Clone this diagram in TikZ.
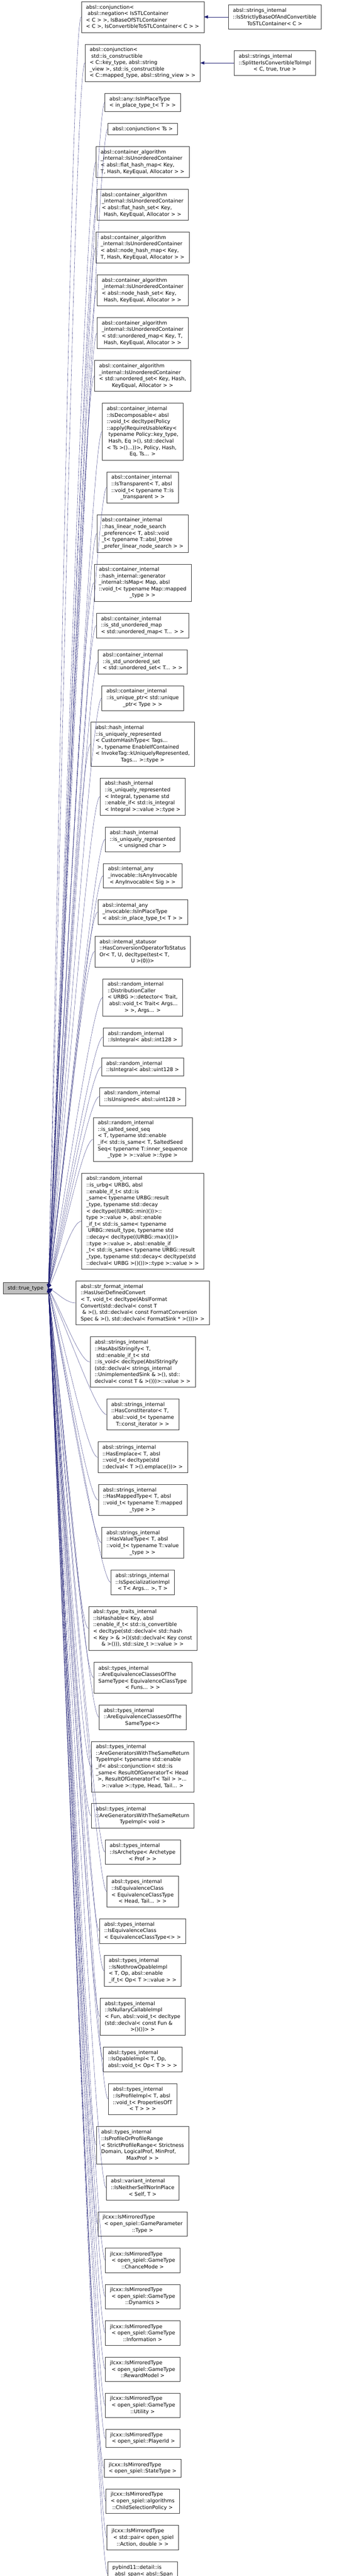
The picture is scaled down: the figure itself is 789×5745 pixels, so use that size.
\documentclass[tikz,border=0pt]{standalone}
\usepackage{fontspec}
\setmainfont{DejaVu Sans}
\usetikzlibrary{positioning,arrows.meta,calc}
\definecolor{edgeblue}{HTML}{191970}
\definecolor{boxline}{HTML}{333333}
\definecolor{rootfill}{HTML}{BFBFBF}
\newcommand{\doxfont}{\fontsize{11.4}{14.5}\selectfont}

\begin{document}
\begin{tikzpicture}[x=1pt, y=1pt, node distance=26pt,
  every node/.style={rectangle, draw=boxline, fill=white, font=\doxfont, align=left, inner xsep=10.5pt, inner ysep=2pt},
  nrows/.style={minimum height=14.5pt*#1+11pt},
  inh/.style={draw=edgeblue, {Triangle[length=9pt,width=7pt]}-},
  fan/.style={to path={.. controls ($(\tikztostart)!0.35!(\tikztotarget)$) and ($(\tikztotarget)+(-22,0)$) .. (\tikztotarget)}}]

\useasboundingbox (0,0) rectangle (789,-5745);

\node[nrows=4, anchor=north] (n1) at (318,-3) {absl::conjunction<\\\ absl::negation< IsSTLContainer\\< C > >, IsBaseOfSTLContainer\\\hfil< C >, IsConvertibleToSTLContainer< C > >};
\node[nrows=3, right=54pt of n1] (r1) {absl::strings\_internal\\::IsStrictlyBaseOfAndConvertible\\\hfil ToSTLContainer< C >};
\node[nrows=5, below=of n1] (n2) {absl::conjunction<\\\ std::is\_constructible\\< C::key\_type, absl::string\\\_view >, std::is\_constructible\\\hfil< C::mapped\_type, absl::string\_view > >};
\node[nrows=3, right=75pt of n2] (r2) {absl::strings\_internal\\::SplitterIsConvertibleToImpl\\\hfil< C, true, true >};
\node[nrows=2, below=of n2] (n3) {absl::any::IsInPlaceType\\\hfil< in\_place\_type\_t< T > >};
\node[nrows=1, below=of n3] (n4) {absl::conjunction< Ts >};
\node[nrows=4, below=of n4] (n5) {absl::container\_algorithm\\\_internal::IsUnorderedContainer\\< absl::flat\_hash\_map< Key,\\\hfil T, Hash, KeyEqual, Allocator > >};
\node[nrows=4, below=of n5] (n6) {absl::container\_algorithm\\\_internal::IsUnorderedContainer\\< absl::flat\_hash\_set< Key,\\\hfil Hash, KeyEqual, Allocator > >};
\node[nrows=4, below=of n6] (n7) {absl::container\_algorithm\\\_internal::IsUnorderedContainer\\< absl::node\_hash\_map< Key,\\\hfil T, Hash, KeyEqual, Allocator > >};
\node[nrows=4, below=of n7] (n8) {absl::container\_algorithm\\\_internal::IsUnorderedContainer\\< absl::node\_hash\_set< Key,\\\hfil Hash, KeyEqual, Allocator > >};
\node[nrows=4, below=of n8] (n9) {absl::container\_algorithm\\\_internal::IsUnorderedContainer\\< std::unordered\_map< Key, T,\\\hfil Hash, KeyEqual, Allocator > >};
\node[nrows=4, below=of n9] (n10) {absl::container\_algorithm\\\_internal::IsUnorderedContainer\\< std::unordered\_set< Key, Hash,\\\hfil KeyEqual, Allocator > >};
\node[nrows=8, below=of n10] (n11) {absl::container\_internal\\::IsDecomposable< absl\\::void\_t< decltype(Policy\\::apply(RequireUsableKey<\\\ typename Policy::key\_type,\\\ Hash, Eq >(), std::declval\\< Ts >()...))>, Policy, Hash,\\\hfil Eq, Ts... >};
\node[nrows=4, below=of n11] (n12) {absl::container\_internal\\::IsTransparent< T, absl\\::void\_t< typename T::is\\\hfil\_transparent > >};
\node[nrows=5, below=of n12] (n13) {absl::container\_internal\\::has\_linear\_node\_search\\\_preference< T, absl::void\\\_t< typename T::absl\_btree\\\hfil\_prefer\_linear\_node\_search > >};
\node[nrows=5, below=of n13] (n14) {absl::container\_internal\\::hash\_internal::generator\\\_internal::IsMap< Map, absl\\::void\_t< typename Map::mapped\\\hfil\_type > >};
\node[nrows=3, below=of n14] (n15) {absl::container\_internal\\::is\_std\_unordered\_map\\\hfil< std::unordered\_map< T... > >};
\node[nrows=3, below=of n15] (n16) {absl::container\_internal\\::is\_std\_unordered\_set\\\hfil< std::unordered\_set< T... > >};
\node[nrows=3, below=of n16] (n17) {absl::container\_internal\\::is\_unique\_ptr< std::unique\\\hfil\_ptr< Type > >};
\node[nrows=6, below=of n17] (n18) {absl::hash\_internal\\::is\_uniquely\_represented\\< CustomHashType< Tags...\\\ >, typename EnableIfContained\\< InvokeTag::kUniquelyRepresented,\\\hfil Tags... >::type >};
\node[nrows=5, below=of n18] (n19) {absl::hash\_internal\\::is\_uniquely\_represented\\< Integral, typename std\\::enable\_if< std::is\_integral\\\hfil< Integral >::value >::type >};
\node[nrows=3, below=of n19] (n20) {absl::hash\_internal\\::is\_uniquely\_represented\\\hfil< unsigned char >};
\node[nrows=3, below=of n20] (n21) {absl::internal\_any\\\_invocable::IsAnyInvocable\\\hfil< AnyInvocable< Sig > >};
\node[nrows=3, below=of n21] (n22) {absl::internal\_any\\\_invocable::IsInPlaceType\\\hfil< absl::in\_place\_type\_t< T > >};
\node[nrows=4, below=of n22] (n23) {absl::internal\_statusor\\::HasConversionOperatorToStatus\\Or< T, U, decltype(test< T,\\\hfil U >(0))>};
\node[nrows=5, below=of n23] (n24) {absl::random\_internal\\::DistributionCaller\\< URBG >::detector< Trait,\\\ absl::void\_t< Trait< Args...\\\hfil > >, Args... >};
\node[nrows=2, below=of n24] (n25) {absl::random\_internal\\::IsIntegral< absl::int128 >};
\node[nrows=2, below=of n25] (n26) {absl::random\_internal\\::IsIntegral< absl::uint128 >};
\node[nrows=2, below=of n26] (n27) {absl::random\_internal\\::IsUnsigned< absl::uint128 >};
\node[nrows=6, below=of n27] (n28) {absl::random\_internal\\::is\_salted\_seed\_seq\\< T, typename std::enable\\\_if< std::is\_same< T, SaltedSeed\\Seq< typename T::inner\_sequence\\\hfil\_type > >::value >::type >};
\node[nrows=14, below=of n28] (n29) {absl::random\_internal\\::is\_urbg< URBG, absl\\::enable\_if\_t< std::is\\\_same< typename URBG::result\\\_type, typename std::decay\\< decltype((URBG::min)())>::\\type >::value >, absl::enable\\\_if\_t< std::is\_same< typename\\\ URBG::result\_type, typename std\\::decay< decltype((URBG::max)())>\\::type >::value >, absl::enable\_if\\\_t< std::is\_same< typename URBG::result\\\_type, typename std::decay< decltype(std\\\hfil::declval< URBG >()())>::type >::value > >};
\node[nrows=6, below=of n29] (n30) {absl::str\_format\_internal\\::HasUserDefinedConvert\\< T, void\_t< decltype(AbslFormat\\Convert(std::declval< const T\\\ \& >(), std::declval< const FormatConversion\\\hfil Spec \& >(), std::declval< FormatSink * >()))> >};
\node[nrows=7, below=of n30] (n31) {absl::strings\_internal\\::HasAbslStringify< T,\\\ std::enable\_if\_t< std\\::is\_void< decltype(AbslStringify\\(std::declval< strings\_internal\\::UnimplementedSink \& >(), std::\\\hfil declval< const T \& >()))>::value > >};
\node[nrows=4, below=of n31] (n32) {absl::strings\_internal\\::HasConstIterator< T,\\\ absl::void\_t< typename\\\hfil T::const\_iterator > >};
\node[nrows=4, below=of n32] (n33) {absl::strings\_internal\\::HasEmplace< T, absl\\::void\_t< decltype(std\\\hfil::declval< T >().emplace())> >};
\node[nrows=4, below=of n33] (n34) {absl::strings\_internal\\::HasMappedType< T, absl\\::void\_t< typename T::mapped\\\hfil\_type > >};
\node[nrows=4, below=of n34] (n35) {absl::strings\_internal\\::HasValueType< T, absl\\::void\_t< typename T::value\\\hfil\_type > >};
\node[nrows=3, below=of n35] (n36) {absl::strings\_internal\\::IsSpecializationImpl\\\hfil< T< Args... >, T >};
\node[nrows=6, below=of n36] (n37) {absl::type\_traits\_internal\\::IsHashable< Key, absl\\::enable\_if\_t< std::is\_convertible\\< decltype(std::declval< std::hash\\< Key > \& >()(std::declval< Key const\\\hfil\& >())), std::size\_t >::value > >};
\node[nrows=4, below=of n37] (n38) {absl::types\_internal\\::AreEquivalenceClassesOfThe\\SameType< EquivalenceClassType\\\hfil< Funs... > >};
\node[nrows=3, below=of n38] (n39) {absl::types\_internal\\::AreEquivalenceClassesOfThe\\\hfil SameType<>};
\node[nrows=7, below=of n39] (n40) {absl::types\_internal\\::AreGeneratorsWithTheSameReturn\\TypeImpl< typename std::enable\\\_if< absl::conjunction< std::is\\\_same< ResultOfGeneratorT< Head\\\ >, ResultOfGeneratorT< Tail > >...\\\hfil>::value >::type, Head, Tail... >};
\node[nrows=3, below=of n40] (n41) {absl::types\_internal\\::AreGeneratorsWithTheSameReturn\\\hfil TypeImpl< void >};
\node[nrows=3, below=of n41] (n42) {absl::types\_internal\\::IsArchetype< Archetype\\\hfil< Prof > >};
\node[nrows=4, below=of n42] (n43) {absl::types\_internal\\::IsEquivalenceClass\\< EquivalenceClassType\\\hfil< Head, Tail... > >};
\node[nrows=3, below=of n43] (n44) {absl::types\_internal\\::IsEquivalenceClass\\\hfil< EquivalenceClassType<> >};
\node[nrows=4, below=of n44] (n45) {absl::types\_internal\\::IsNothrowOpableImpl\\< T, Op, absl::enable\\\hfil\_if\_t< Op< T >::value > >};
\node[nrows=5, below=of n45] (n46) {absl::types\_internal\\::IsNullaryCallableImpl\\< Fun, absl::void\_t< decltype\\(std::declval< const Fun \&\\\hfil >()())> >};
\node[nrows=3, below=of n46] (n47) {absl::types\_internal\\::IsOpableImpl< T, Op,\\\hfil absl::void\_t< Op< T > > >};
\node[nrows=4, below=of n47] (n48) {absl::types\_internal\\::IsProfileImpl< T, absl\\::void\_t< PropertiesOfT\\\hfil< T > > >};
\node[nrows=5, below=of n48] (n49) {absl::types\_internal\\::IsProfileOrProfileRange\\< StrictProfileRange< Strictness\\Domain, LogicalProf, MinProf,\\\hfil MaxProf > >};
\node[nrows=3, below=of n49] (n50) {absl::variant\_internal\\::IsNeitherSelfNorInPlace\\\hfil< Self, T >};
\node[nrows=3, below=of n50] (n51) {jlcxx::IsMirroredType\\\ < open\_spiel::GameParameter\\\hfil::Type >};
\node[nrows=3, below=of n51] (n52) {jlcxx::IsMirroredType\\\ < open\_spiel::GameType\\\hfil::ChanceMode >};
\node[nrows=3, below=of n52] (n53) {jlcxx::IsMirroredType\\\ < open\_spiel::GameType\\\hfil::Dynamics >};
\node[nrows=3, below=of n53] (n54) {jlcxx::IsMirroredType\\\ < open\_spiel::GameType\\\hfil::Information >};
\node[nrows=3, below=of n54] (n55) {jlcxx::IsMirroredType\\\ < open\_spiel::GameType\\\hfil::RewardModel >};
\node[nrows=3, below=of n55] (n56) {jlcxx::IsMirroredType\\\ < open\_spiel::GameType\\\hfil::Utility >};
\node[nrows=2, below=of n56] (n57) {jlcxx::IsMirroredType\\\ < open\_spiel::PlayerId >};
\node[nrows=2, below=of n57] (n58) {jlcxx::IsMirroredType\\< open\_spiel::StateType >};
\node[nrows=3, below=of n58] (n59) {jlcxx::IsMirroredType\\< open\_spiel::algorithms\\\hfil::ChildSelectionPolicy >};
\node[nrows=3, below=of n59] (n60) {jlcxx::IsMirroredType\\\ < std::pair< open\_spiel\\\hfil::Action, double > >};
\node[nrows=3, below=of n60] (n61) {pybind11::detail::is\\\_absl\_span< absl::Span\\\hfil< T > >};

\node[nrows=1, fill=rootfill] (tt) at (57,-2873) {std::true\_type};

% edges
\draw[inh] (n1.east) -- (r1.west);
\draw[inh] (n2.east) -- (r2.west);
\draw[inh] (tt.east) to[fan] (n1.west);
\draw[inh] (tt.east) to[fan] (n2.west);
\draw[inh] (tt.east) to[fan] (n3.west);
\draw[inh] (tt.east) to[fan] (n4.west);
\draw[inh] (tt.east) to[fan] (n5.west);
\draw[inh] (tt.east) to[fan] (n6.west);
\draw[inh] (tt.east) to[fan] (n7.west);
\draw[inh] (tt.east) to[fan] (n8.west);
\draw[inh] (tt.east) to[fan] (n9.west);
\draw[inh] (tt.east) to[fan] (n10.west);
\draw[inh] (tt.east) to[fan] (n11.west);
\draw[inh] (tt.east) to[fan] (n12.west);
\draw[inh] (tt.east) to[fan] (n13.west);
\draw[inh] (tt.east) to[fan] (n14.west);
\draw[inh] (tt.east) to[fan] (n15.west);
\draw[inh] (tt.east) to[fan] (n16.west);
\draw[inh] (tt.east) to[fan] (n17.west);
\draw[inh] (tt.east) to[fan] (n18.west);
\draw[inh] (tt.east) to[fan] (n19.west);
\draw[inh] (tt.east) to[fan] (n20.west);
\draw[inh] (tt.east) to[fan] (n21.west);
\draw[inh] (tt.east) to[fan] (n22.west);
\draw[inh] (tt.east) to[fan] (n23.west);
\draw[inh] (tt.east) to[fan] (n24.west);
\draw[inh] (tt.east) to[fan] (n25.west);
\draw[inh] (tt.east) to[fan] (n26.west);
\draw[inh] (tt.east) to[fan] (n27.west);
\draw[inh] (tt.east) to[fan] (n28.west);
\draw[inh] (tt.east) to[fan] (n29.west);
\draw[inh] (tt.east) to[fan] (n30.west);
\draw[inh] (tt.east) to[fan] (n31.west);
\draw[inh] (tt.east) to[fan] (n32.west);
\draw[inh] (tt.east) to[fan] (n33.west);
\draw[inh] (tt.east) to[fan] (n34.west);
\draw[inh] (tt.east) to[fan] (n35.west);
\draw[inh] (tt.east) to[fan] (n36.west);
\draw[inh] (tt.east) to[fan] (n37.west);
\draw[inh] (tt.east) to[fan] (n38.west);
\draw[inh] (tt.east) to[fan] (n39.west);
\draw[inh] (tt.east) to[fan] (n40.west);
\draw[inh] (tt.east) to[fan] (n41.west);
\draw[inh] (tt.east) to[fan] (n42.west);
\draw[inh] (tt.east) to[fan] (n43.west);
\draw[inh] (tt.east) to[fan] (n44.west);
\draw[inh] (tt.east) to[fan] (n45.west);
\draw[inh] (tt.east) to[fan] (n46.west);
\draw[inh] (tt.east) to[fan] (n47.west);
\draw[inh] (tt.east) to[fan] (n48.west);
\draw[inh] (tt.east) to[fan] (n49.west);
\draw[inh] (tt.east) to[fan] (n50.west);
\draw[inh] (tt.east) to[fan] (n51.west);
\draw[inh] (tt.east) to[fan] (n52.west);
\draw[inh] (tt.east) to[fan] (n53.west);
\draw[inh] (tt.east) to[fan] (n54.west);
\draw[inh] (tt.east) to[fan] (n55.west);
\draw[inh] (tt.east) to[fan] (n56.west);
\draw[inh] (tt.east) to[fan] (n57.west);
\draw[inh] (tt.east) to[fan] (n58.west);
\draw[inh] (tt.east) to[fan] (n59.west);
\draw[inh] (tt.east) to[fan] (n60.west);
\draw[inh] (tt.east) to[fan] (n61.west);

\end{tikzpicture}
\end{document}
